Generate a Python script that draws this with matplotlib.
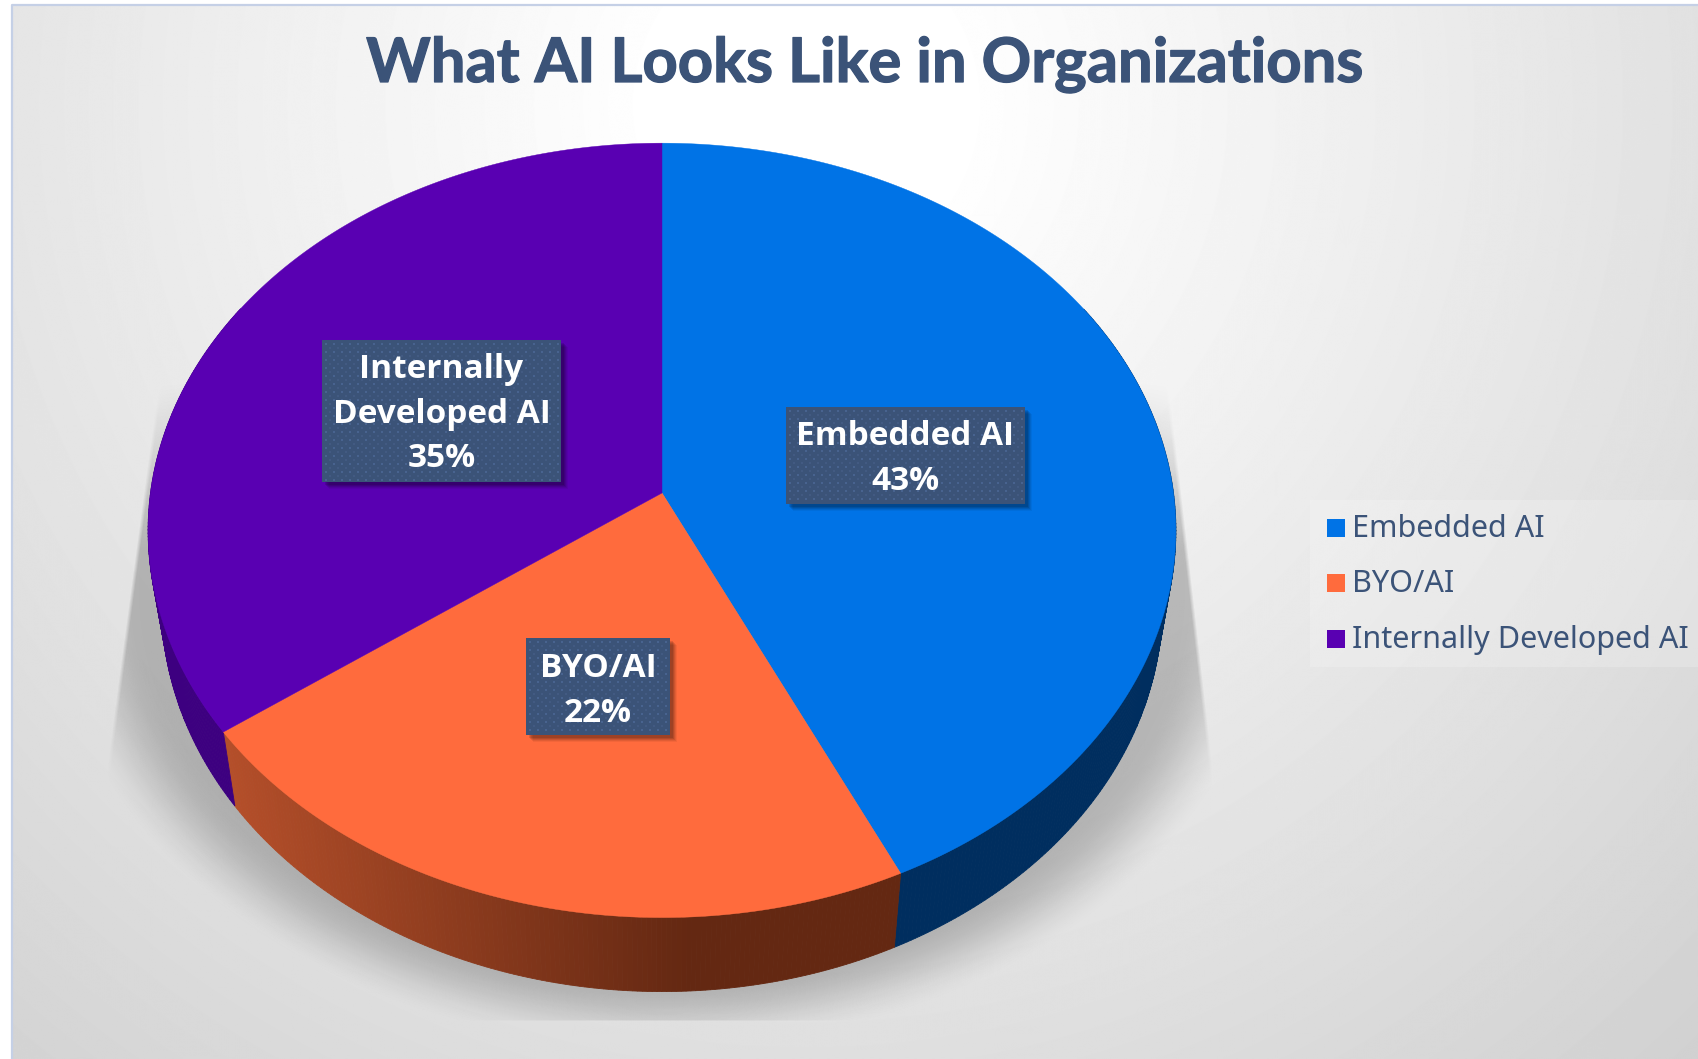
import numpy as np
import matplotlib
matplotlib.use("Agg")
import matplotlib.pyplot as plt
import matplotlib.patheffects as pe
from matplotlib.colors import to_rgb
from matplotlib.patches import Rectangle, Polygon

# chart data
categories = ["Embedded AI", "BYO/AI", "Internally Developed AI"]
shares = [43, 22, 35]
box_lines = [["Embedded AI", "43%"], ["BYO/AI", "22%"], ["Internally", "Developed AI", "35%"]]
title = "What AI Looks Like in Organizations"

top_colors = ["#0073E6", "#FF6B3D", "#5900B2"]
side_colors = ["#002E5F", "#642812", "#3D0080"]
navy = "#3B5378"

W, H = 1699, 1059
fig = plt.figure(figsize=(W / 100, H / 100), dpi=100, facecolor="white")
ax = fig.add_axes([0, 0, 1, 1])
ax.set_xlim(0, W)
ax.set_ylim(H, 0)
ax.axis("off")


def project(th, x0, y0, rx, ry, k=0.0965):
    # th is degrees clockwise from 12 o'clock, perspective view of a flat disc
    u = np.sin(np.radians(th))
    v = np.cos(np.radians(th))
    w = 1 + k * v
    return x0 + rx * u / w, y0 - ry * v / w


def top_xy(th):
    return project(th, 662, 493, 511.5, 383.6)


def bottom_xy(th):
    return project(th, 662, 567, 498, 383.6)


# background gradient
xx, yy = np.meshgrid(np.arange(W) + 0.5, np.arange(H) + 0.5)
dist = np.hypot(xx - 800, yy - 100)
bg = np.clip(255 - np.maximum(0, dist - 150) * 0.04, 0, 255) / 255
ax.imshow(bg, cmap="gray", vmin=0, vmax=1, extent=(12, W, H, 5), zorder=0,
          aspect="auto", interpolation="bilinear")
ax.plot([12, 12, W], [H, 5, 5], color="#C5D0E6", lw=1.6, zorder=1)
ax.set_xlim(0, W)
ax.set_ylim(H, 0)

# soft shadow under the pie, cut by a trapezoid like the reference
r = np.hypot((xx - 662) / 560, (yy - 590) / 420)
soft = np.clip((1.10 - r) / 0.17, 0, 1)
soft = soft * soft * (3 - 2 * soft)
left_edge = 155 + (yy - 410) * (108 - 155) / 350
right_edge = 1172 + (yy - 410) * (1212 - 1172) / 350
mask = np.clip((xx - left_edge) / 4, 0, 1) * np.clip((right_edge - xx) / 4, 0, 1)
mask *= np.clip((yy - 380) / 170, 0, 1) * np.clip(1021 - yy, 0, 1)
shadow = np.zeros((H, W, 4))
shadow[..., 3] = 0.22 * soft * mask
ax.imshow(shadow, extent=(0, W, H, 0), zorder=2, aspect="auto")
ax.set_xlim(0, W)
ax.set_ylim(H, 0)

# slice boundaries from the shares
cum = np.cumsum([0] + shares) * 360 / sum(shares)

# pie side, in thin strips so the orange part can carry a gradient
orange_left = np.array(to_rgb("#B54F2A"))
orange_right = np.array(to_rgb(side_colors[1]))
for i in range(3):
    start, end = cum[i], cum[i + 1]
    steps = max(2, int((end - start) * 2))
    for a, b in zip(np.linspace(start, end, steps)[:-1], np.linspace(start, end, steps)[1:]):
        if a > 300 or b < 60:
            continue
        tx0, ty0 = top_xy(a)
        tx1, ty1 = top_xy(b)
        bx0, by0 = bottom_xy(a)
        bx1, by1 = bottom_xy(b)
        if i == 1:
            f = np.clip((690 - bx0) / (690 - 234), 0, 1)
            col = tuple(orange_right + (orange_left - orange_right) * f)
        else:
            col = side_colors[i]
        ax.add_patch(Polygon([(tx0, ty0), (tx1, ty1), (bx1, by1), (bx0, by0)], closed=True,
                             facecolor=col, edgecolor=col, lw=0.6, zorder=3))

# top face
for i in range(3):
    th = np.linspace(cum[i], cum[i + 1], 200)
    x, y = top_xy(th)
    ax.fill(np.r_[662, x], np.r_[493, y], color=top_colors[i], lw=0.3, zorder=4)

# data label boxes
boxes = [(786, 407, 1025, 504), (526, 638, 670, 735), (322, 340, 561, 482)]
baselines = [[445, 490], [677, 722], [378, 423, 467]]
for (x0, y0, x1, y1), lines, ys in zip(boxes, box_lines, baselines):
    for off, alpha in [(7, 0.05), (6, 0.07), (5, 0.09), (4, 0.11), (3, 0.12)]:
        ax.add_patch(Rectangle((x0 + off, y0 + off), x1 - x0, y1 - y0, facecolor="black",
                               alpha=alpha, lw=0, zorder=5))
    ax.add_patch(Rectangle((x0, y0), x1 - x0, y1 - y0, facecolor=navy, lw=0, zorder=6))
    gx, gy = np.meshgrid(np.arange(x0 + 4, x1 - 1, 8), np.arange(y0 + 4, y1 - 1, 8))
    ax.scatter(gx.ravel(), gy.ravel(), s=3.5, marker="s", color="#48638F", lw=0, zorder=7)
    gx, gy = np.meshgrid(np.arange(x0 + 8, x1 - 1, 8), np.arange(y0 + 8, y1 - 1, 8))
    ax.scatter(gx.ravel(), gy.ravel(), s=2, marker="s", color="#425A82", lw=0, zorder=7)
    for line, yb in zip(lines, ys):
        ax.text((x0 + x1) / 2, yb, line, color="white", family="Open Sans", weight="bold",
                fontsize=24, ha="center", va="baseline", zorder=8)

# title
title_text = ax.text(865, 82, title, color=navy, family="Lato", weight="bold", fontsize=44.3,
                     ha="center", va="baseline", zorder=8)
title_text.set_path_effects([pe.withStroke(linewidth=0.9, foreground=navy)])

# legend
ax.add_patch(Rectangle((1310, 500), W - 1310, 167, facecolor="white", alpha=0.2, lw=0, zorder=3))
legend_y = [528, 583, 639]
for name, col, ly in zip(categories, top_colors, legend_y):
    ax.add_patch(Rectangle((1327, ly - 9), 18, 18, facecolor=col, lw=0, zorder=8))
    ax.text(1352, ly + 9, name, color=navy, family="Noto Sans", fontsize=22,
            ha="left", va="baseline", zorder=8)

plt.savefig("out.png", dpi=100)
print("saved out.png")
